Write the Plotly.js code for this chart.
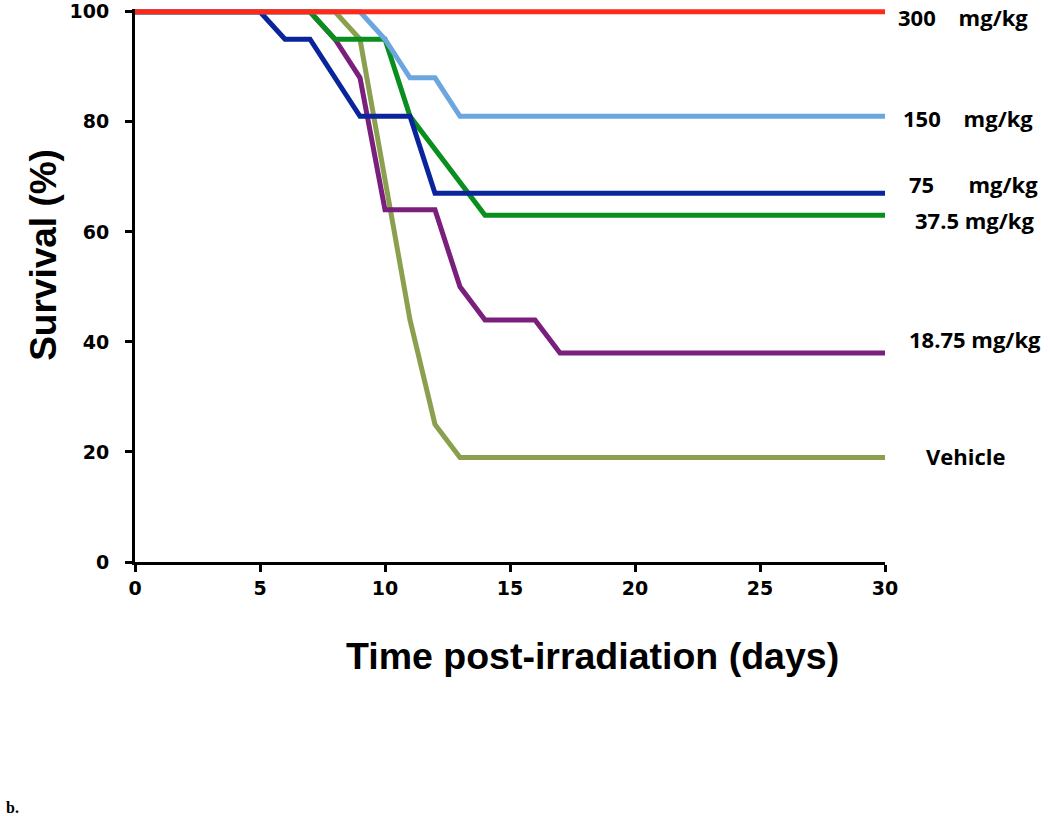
<!DOCTYPE html>
<html><head><meta charset="utf-8">
<script src="https://cdn.plot.ly/plotly-3.0.1.min.js"></script>
<style>html,body{margin:0;padding:0;background:#fff}#c{width:1050px;height:816px}</style>
</head><body><div id="c"></div>
<script>
var seriesNames = ["Vehicle", "18.75 mg/kg", "37.5 mg/kg", "75 mg/kg", "150 mg/kg", "300 mg/kg"];
var labelTexts = ["Vehicle", "18.75 mg/kg", "37.5 mg/kg", "75&nbsp;&nbsp;&nbsp;&nbsp;&nbsp; mg/kg", "150&nbsp;&nbsp;&nbsp; mg/kg", "300&nbsp;&nbsp;&nbsp; mg/kg"];
var vehicleDays = [0, 8, 9, 10, 11, 12, 13, 30];
var vehicleSurv = [100, 100, 95, 69, 44, 25, 19, 19];
var d1875Days = [0, 7, 8, 9, 10, 12, 13, 14, 16, 17, 30];
var d1875Surv = [100, 100, 95, 88, 64, 64, 50, 44, 44, 38, 38];
var d375Days = [0, 7, 8, 10, 11, 12, 14, 30];
var d375Surv = [100, 100, 95, 95, 81, 75, 63, 63];
var d75Days = [0, 5, 6, 7, 9, 11, 12, 30];
var d75Surv = [100, 100, 95, 95, 81, 81, 67, 67];
var d150Days = [0, 9, 10, 11, 12, 13, 30];
var d150Surv = [100, 100, 95, 88, 88, 81, 81];
var d300Days = [0, 30];
var d300Surv = [100, 100];
var xTicks = [0, 5, 10, 15, 20, 25, 30];
var yTicks = [0, 20, 40, 60, 80, 100];
var colors = ["#8BA04F", "#7B1F7C", "#0A8F1E", "#0A249C", "#6CA6DF", "#FF2A1A"];
var labelXpx = [966, 975, 974, 973, 968, 963];
var labelYpx = [456, 339, 220, 184, 118, 17];

var allDays = [vehicleDays, d1875Days, d375Days, d75Days, d150Days, d300Days];
var allSurv = [vehicleSurv, d1875Surv, d375Surv, d75Surv, d150Surv, d300Surv];

var traces = allDays.map(function(d, i){
  return {x: d, y: allSurv[i], name: seriesNames[i], type: 'scatter', mode: 'lines',
    line: {color: colors[i], width: 5}, hoverinfo: 'skip'};
});

// plot area: x 135..885, y(100)=12, y(0)=562, range top 100.5
var y100px = 12, y0px = 562;
var yTop = 100.5;
var pxPerUnit = (y0px - y100px) / 100;
var plotTop = y100px - (yTop - 100) * pxPerUnit;
var plotH = y0px - plotTop;
function px2paperY(p){ return (y0px - p) / plotH; }
function px2paperX(p){ return (p - 135) / 750; }

var fontB = 'Liberation Sans, Arial, sans-serif';
var annotations = labelTexts.map(function(t, i){
  return {text: '<b>' + t + '</b>', xref: 'paper', yref: 'paper',
    x: px2paperX(labelXpx[i]), y: px2paperY(labelYpx[i]),
    xanchor: 'center', yanchor: 'middle', showarrow: false,
    font: {family: 'Open Sans, Liberation Sans, sans-serif', size: 22, color: '#000'}};
});
annotations.push({text: '<b>Time post-irradiation (days)</b>', xref: 'paper', yref: 'paper',
  x: px2paperX(592), y: px2paperY(656), xanchor: 'center', yanchor: 'middle', showarrow: false,
  font: {family: fontB, size: 37.5, color: '#000'}});
annotations.push({text: '<b>Survival (%)</b>', xref: 'paper', yref: 'paper', textangle: -90,
  x: px2paperX(44), y: px2paperY(255), xanchor: 'center', yanchor: 'middle', showarrow: false,
  font: {family: fontB, size: 37, color: '#000'}});
annotations.push({text: '<b>b.</b>', xref: 'paper', yref: 'paper',
  x: px2paperX(4), y: px2paperY(807), xanchor: 'left', yanchor: 'middle', showarrow: false,
  font: {family: 'Liberation Serif, serif', size: 16, color: '#000'}});

var tickFont = {family: 'DejaVu Sans, sans-serif', size: 19, color: '#000'};
var layout = {
  width: 1050, height: 816,
  margin: {l: 135, r: 165, t: plotTop, b: 816 - y0px},
  paper_bgcolor: '#fff', plot_bgcolor: '#fff',
  showlegend: false,
  xaxis: {range: [0, 30], tickvals: xTicks, ticktext: xTicks.map(function(v){return '<b>' + v + '</b>';}),
    showgrid: false, zeroline: false,
    showline: true, linecolor: '#000', linewidth: 3, ticks: 'outside', ticklen: 7, tickwidth: 3, tickcolor: '#000',
    tickfont: tickFont, fixedrange: true, ticklabeloverflow: 'allow'},
  yaxis: {range: [0, yTop], tickvals: yTicks, ticktext: yTicks.map(function(v){return '<b>' + v + '</b>';}),
    showgrid: false, zeroline: false,
    showline: true, linecolor: '#000', linewidth: 3, ticks: 'outside', ticklen: 7, tickwidth: 3, tickcolor: '#000',
    tickfont: tickFont, fixedrange: true, ticklabelstandoff: 12, ticklabeloverflow: 'allow'},
  annotations: annotations
};
Plotly.newPlot('c', traces, layout, {displayModeBar: false, staticPlot: true});
</script></body></html>
